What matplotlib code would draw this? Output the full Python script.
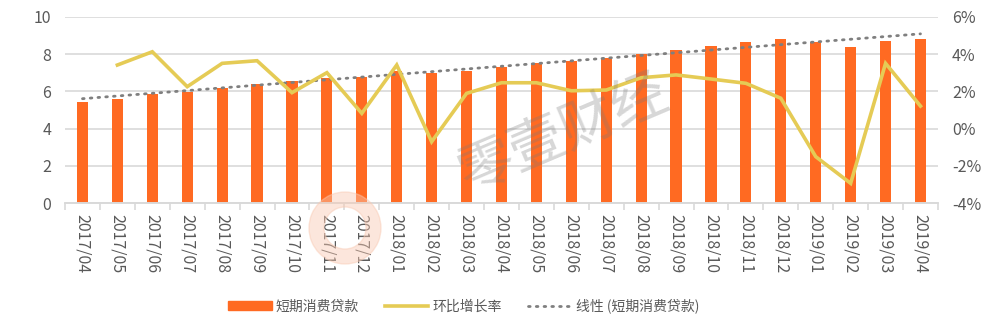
import matplotlib.pyplot as plt
import numpy as np
from matplotlib.lines import Line2D
from matplotlib.patches import Patch, Wedge
from matplotlib.ticker import FixedLocator, FuncFormatter
from matplotlib.transforms import IdentityTransform

plt.rcParams['font.family'] = ['Noto Sans CJK SC', 'DejaVu Sans']

months = ['2017/04', '2017/05', '2017/06', '2017/07', '2017/08', '2017/09',
          '2017/10', '2017/11', '2017/12', '2018/01', '2018/02', '2018/03',
          '2018/04', '2018/05', '2018/06', '2018/07', '2018/08', '2018/09',
          '2018/10', '2018/11', '2018/12', '2019/01', '2019/02', '2019/03',
          '2019/04']

# short-term consumer loans (left axis)
loans = [5.45, 5.58, 5.86, 5.98, 6.2, 6.39, 6.55, 6.71, 6.78, 7.07, 6.99,
         7.11, 7.32, 7.5, 7.64, 7.8, 8.0, 8.21, 8.45, 8.64, 8.8, 8.64, 8.38,
         8.71, 8.82]

# month-on-month growth in % (right axis), none for the first month
growth = [np.nan, 3.41, 4.12, 2.25, 3.5, 3.64, 1.93, 3.0, 0.82, 3.41, -0.7,
          1.89, 2.46, 2.46, 2.03, 2.07, 2.73, 2.88, 2.66, 2.43, 1.63, -1.5,
          -2.93, 3.5, 1.21]

bar_color = '#FF6A22'
line_color = '#E5CB55'
trend_color = '#7F7F7F'
grid_color = '#D9D9D9'
text_color = '#595959'

fig = plt.figure(figsize=(10.08, 3.24), dpi=100)
ax = fig.add_axes([0.0645, 0.3725, 0.866, 0.576])
ax2 = ax.twinx()

x = np.arange(len(months))
ax.bar(x, loans, width=0.32, color=bar_color, zorder=2)

# linear trend of the loans
k, b = np.polyfit(x, loans, 1)
ax.plot(x, k * x + b, color=trend_color, lw=2, linestyle=(0, (0.6, 2.2)),
        dash_capstyle='round', zorder=3)

ax2.plot(x, growth, color=line_color, lw=2.6, zorder=4, solid_joinstyle='miter')

ax.set_xlim(-0.5, len(months) - 0.5)
ax.set_ylim(0, 10)
ax.set_yticks(np.arange(0, 11, 2))
ax2.set_ylim(-4, 6)
ax2.set_yticks(np.arange(-4, 7, 2))
ax2.yaxis.set_major_formatter(FuncFormatter(lambda v, p: f'{v:.0f}%'))

ax.grid(axis='y', color=grid_color, lw=1.2, zorder=0)
ax.set_axisbelow(True)
ax.set_xticks(x)
ax.set_xticklabels(months, rotation=-90)
ax.xaxis.set_minor_locator(FixedLocator(np.arange(-0.5, len(months), 1)))
ax.tick_params(axis='x', which='major', length=0, pad=8, labelsize=11.5,
               labelcolor=text_color)
ax.tick_params(axis='x', which='minor', length=5, width=1.2, color=grid_color)
ax.tick_params(axis='y', length=0, labelsize=11.5, labelcolor=text_color, pad=10)
ax2.tick_params(axis='y', length=0, labelsize=11.5, labelcolor=text_color, pad=10)

for a in (ax, ax2):
    for side in ('top', 'left', 'right'):
        a.spines[side].set_visible(False)
    a.spines['bottom'].set_color(grid_color)
    a.spines['bottom'].set_linewidth(1.2)

# watermark
fig.text(0.559, 0.583, '零壹财经', fontsize=40, color='#7A7A7A', alpha=0.3,
         rotation=23, ha='center', va='center', zorder=10)
fig.patches.append(Wedge((345, 96), 36, 0, 360, width=15,
                         transform=IdentityTransform(),
                         color='#F9C9B2', alpha=0.45, zorder=10))

handles = [Patch(color=bar_color),
           Line2D([], [], color=line_color, lw=2.6),
           Line2D([], [], color=trend_color, lw=2, linestyle=(0, (0.6, 2.2)),
                  dash_capstyle='round')]
labels = ['短期消费贷款', '环比增长率', '线性 (短期消费贷款)']
fig.legend(handles, labels, loc='center', bbox_to_anchor=(0.46, 0.055), ncol=3,
           frameon=False, fontsize=10, labelcolor=text_color,
           handlelength=3.1, handleheight=0.6, columnspacing=1.9,
           handletextpad=0.3)

fig.savefig('out.png', dpi=100)
